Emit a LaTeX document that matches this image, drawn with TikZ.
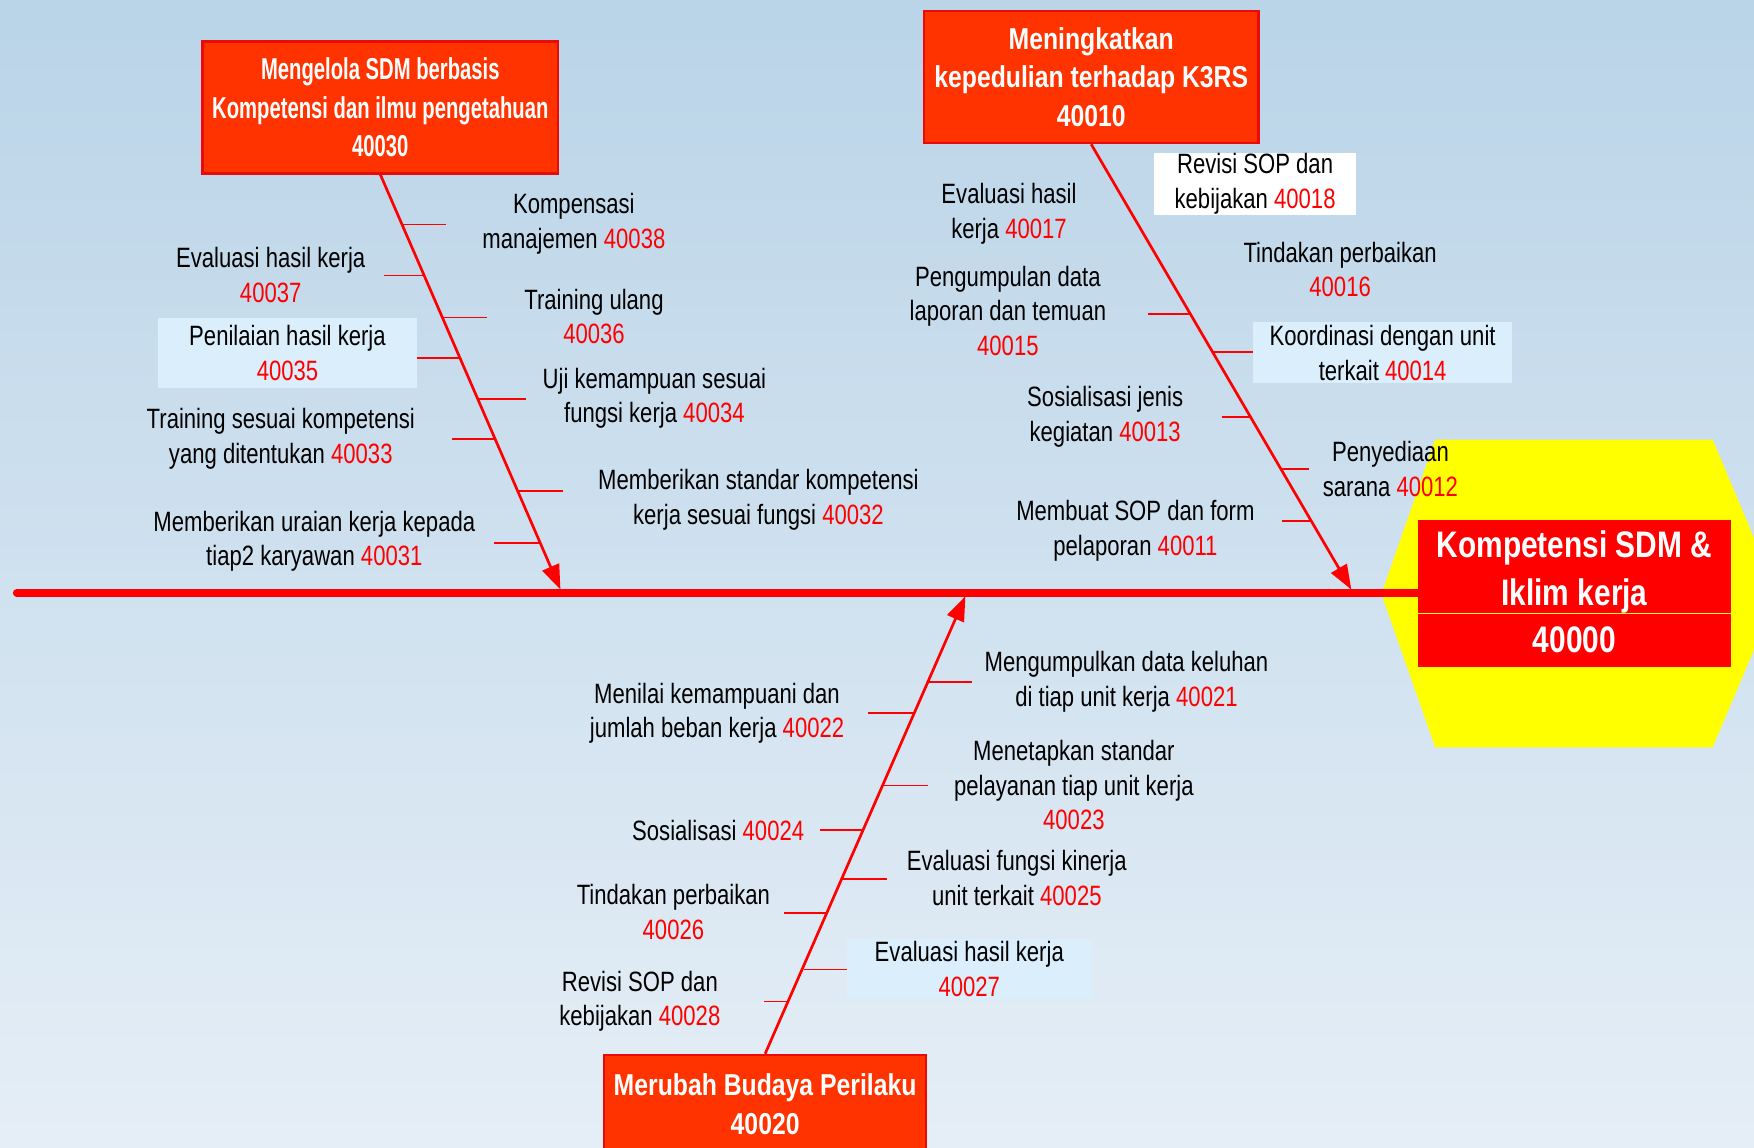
\documentclass[tikz,border=0pt]{standalone}
\usepackage{fontspec}
\setmainfont{Liberation Sans}[FakeStretch=0.79]
\newfontfamily\hdAfont{Liberation Sans}[FakeStretch=0.67]
\newfontfamily\hdBfont{Liberation Sans}[FakeStretch=0.82]
\newfontfamily\ctrfont{Liberation Sans}[FakeStretch=0.81]
\usetikzlibrary{arrows.meta,calc}
\definecolor{bgtop}{RGB}{186,212,232}
\definecolor{bgbot}{RGB}{229,238,246}
\definecolor{numred}{RGB}{255,0,0}
\definecolor{hdrfill}{RGB}{255,51,0}
\definecolor{hdrborder}{RGB}{235,10,10}
\definecolor{lightbox}{RGB}{218,238,251}
\definecolor{hexyellow}{RGB}{255,255,0}
\definecolor{ctrred}{RGB}{255,0,0}
\newcommand{\redno}[1]{\textcolor{numred}{#1}}
\tikzset{
  lbl/.style={font=\fontsize{25}{31}\selectfont, align=center, inner sep=0pt, text=black},
  lblbox/.style={lbl, fill=#1},
  hdr/.style={draw=hdrborder, line width=2pt, fill=hdrfill, text=white, align=center, inner sep=0pt},
  bone/.style={draw=numred, line width=2.4pt, -{Triangle[length=22pt,width=16pt]}},
  spine/.style={draw=numred, line width=7pt, line cap=round},
  tickthin/.style={draw=numred, line width=1.1pt},
  tickthick/.style={draw=numred, line width=1.8pt},
  ctrbox/.style={fill=ctrred, inner sep=0pt, minimum width=279pt},
  ctrtext/.style={text=white, align=center, inner sep=0pt,
    font=\ctrfont\bfseries\fontsize{33}{42.5}\selectfont}
}
\begin{document}
\begin{tikzpicture}
\useasboundingbox (0,0) rectangle (1568pt,-1026pt);
\clip (0,0) rectangle (1568pt,-1026pt);
\shade[top color=bgtop,bottom color=bgbot] (0,0) rectangle (1568pt,-1026pt);
\begin{scope}[x=1pt,y=-1pt]
% central hexagon
\fill[hexyellow] (1283,393) -- (1531,393) -- (1589,531) -- (1531,668) -- (1283,668) -- (1235,531) -- cycle;

% header boxes
\node[hdr, minimum width=318pt, minimum height=118pt, font=\hdAfont\bfseries\fontsize{27}{34.5}\selectfont] (h1) at (340,96)
  {Mengelola SDM berbasis\\Kompetensi dan ilmu pengetahuan\\40030};
\node[hdr, minimum width=299pt, minimum height=118pt, font=\hdBfont\bfseries\fontsize{27}{34.5}\selectfont] (h2) at (975.5,69)
  {Meningkatkan\\kepedulian terhadap K3RS\\40010};
\node[hdr, minimum width=288pt, minimum height=88pt, font=\hdBfont\bfseries\fontsize{27}{35}\selectfont] (h3) at (684,987)
  {Merubah Budaya Perilaku\\40020};

% central effect box
\node[ctrbox, minimum height=83pt] (ctop) at (1407.5,506.5) {};
\node[ctrtext] (ctoptxt) at (1407.5,511.5) {Kompetensi SDM \&\\Iklim kerja};
\node[ctrbox, ctrtext, minimum height=48pt] (cbot) at (1407.5,572) {40000};

% spine
\coordinate (s0) at (15,530);
\draw[spine] (s0) -- (s0 -| ctop.west);
\draw[hexyellow, line width=0.8pt] (ctop.south west) -- (ctop.south east);

% bone end points on spine
\coordinate (t1) at (501,527);
\coordinate (t2) at (1208,527);
\coordinate (t3) at (863,533);

\draw[bone] (h1.south) -- (t1);
\draw[bone] (h2.south) -- (t2);
\draw[bone] (h3.north) -- (t3);

% ticks bone 1
\draw[tickthin] (359.5,200.8) -- (399,200.8);
\draw[tickthin] (343,246) -- (379.5,246);
\draw[tickthin] (395.5,284) -- (435,284);
\draw[tickthick] (373,320) -- (411,320);
\draw[tickthick] (427,356.5) -- (470,356.5);
\draw[tickthick] (404,392) -- (442.5,392);
\draw[tickthick] (462.5,439) -- (503,439);
\draw[tickthick] (442,485) -- (483,485);

% ticks bone 2
\draw[tickthick] (1026,280.4) -- (1064.5,280.4);
\draw[tickthick] (1084.5,315) -- (1120,315);
\draw[tickthick] (1092,373) -- (1118.5,373);
\draw[tickthick] (1145.5,419.6) -- (1170,419.6);
\draw[tickthick] (1146,465.5) -- (1172.5,465.5);

% ticks bone 3
\draw[tickthick] (829.5,610) -- (869,610);
\draw[tickthick] (776,637.4) -- (818,637.4);
\draw[tickthin] (789.5,702.4) -- (830,702.4);
\draw[tickthick] (733,742) -- (772.5,742);
\draw[tickthick] (753.5,785.6) -- (793,785.6);
\draw[tickthick] (701,816) -- (740,816);
\draw[tickthin] (718.5,866.4) -- (757,866.4);
\draw[tickthin] (683,895.6) -- (705.5,895.6);

% labels bone 1
\node[lbl] (n38) at (513,200) {Kompensasi\\manajemen \redno{40038}};
\node[lbl] (n37) at (242,246) {Evaluasi hasil kerja\\\redno{40037}};
\node[lbl] (n36) at (531,283) {Training ulang\\\redno{40036}};
\node[lblbox=lightbox, minimum width=232pt, minimum height=63pt] (n35) at (257,315.5) {Penilaian hasil kerja\\\redno{40035}};
\node[lbl] (n34) at (585,356) {Uji kemampuan sesuai\\fungsi kerja \redno{40034}};
\node[lbl] (n33) at (251,392) {Training sesuai kompetensi\\yang ditentukan \redno{40033}};
\node[lbl] (n32) at (678,447) {Memberikan standar kompetensi\\kerja sesuai fungsi \redno{40032}};
\node[lbl] (n31) at (281,484) {Memberikan uraian kerja kepada\\tiap2 karyawan \redno{40031}};

% labels bone 2
\node[lbl] (n17) at (902,191) {Evaluasi hasil\\kerja \redno{40017}};
\node[lbl] (n15) at (901,278) {Pengumpulan data\\laporan dan temuan\\\redno{40015}};
\node[lblbox=white, minimum width=180pt, minimum height=55pt] (n18) at (1122,164.3) {Revisi SOP dan\\kebijakan \redno{40018}};
\node[lbl] (n16) at (1198,241) {Tindakan perbaikan\\\redno{40016}};
\node[lblbox=lightbox, minimum width=232pt, minimum height=55pt] (n14) at (1236,315.3) {Koordinasi dengan unit\\terkait \redno{40014}};
\node[lbl] (n13) at (988,372.5) {Sosialisasi jenis\\kegiatan \redno{40013}};
\node[lbl] (n12) at (1243,419.5) {Penyediaan\\sarana \redno{40012}};
\node[lbl] (n11) at (1015,474.5) {Membuat SOP dan form\\pelaporan \redno{40011}};

% labels bone 3
\node[lbl] (n21) at (1007,609.5) {Mengumpulkan data keluhan\\di tiap unit kerja \redno{40021}};
\node[lbl] (n22) at (641,637.5) {Menilai kemampuani dan\\jumlah beban kerja \redno{40022}};
\node[lbl] (n23) at (960,702) {Menetapkan standar\\pelayanan tiap unit kerja\\\redno{40023}};
\node[lbl] (n24) at (642,742) {Sosialisasi \redno{40024}};
\node[lbl] (n25) at (909,785) {Evaluasi fungsi kinerja\\unit terkait \redno{40025}};
\node[lbl] (n26) at (602,815.5) {Tindakan perbaikan\\\redno{40026}};
\node[lblbox=lightbox, minimum width=219pt, minimum height=54pt] (n27) at (866.5,866) {Evaluasi hasil kerja\\\redno{40027}};
\node[lbl] (n28) at (572,895) {Revisi SOP dan\\kebijakan \redno{40028}};
\end{scope}
\end{tikzpicture}
\end{document}
